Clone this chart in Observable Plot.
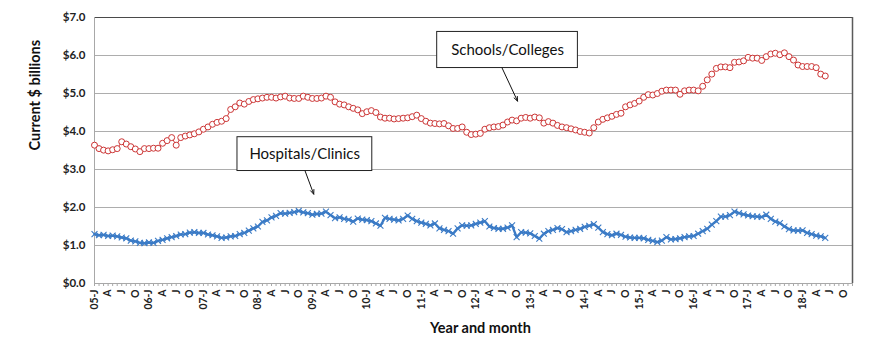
<!DOCTYPE html>
<html><head><meta charset="utf-8">
<script src="https://cdn.jsdelivr.net/npm/d3@7"></script>
<script src="https://cdn.jsdelivr.net/npm/@observablehq/plot@0.6"></script>
<style>body{margin:0;background:#fff}</style>
</head><body><div id="chart"></div>
<script>
const startYear = 2005;
const monthLetters = ["J","F","M","A","M","J","J","A","S","O","N","D"];
const yTicks = [0, 1, 2, 3, 4, 5, 6, 7];
const axisMonths = 168; // Jan 2005 .. Dec 2018
const xTitle = "Year and month";
const yTitle = "Current $ billions";

// Schools/Colleges, monthly, Jan 2005 .. Jun 2018 ($ billions)
const schools = [
  3.64, 3.55, 3.51, 3.49, 3.52, 3.55, 3.73, 3.67, 3.60, 3.54, 3.47, 3.55,
  3.55, 3.56, 3.56, 3.69, 3.76, 3.84, 3.64, 3.84, 3.88, 3.91, 3.94, 3.99,
  4.06, 4.12, 4.19, 4.24, 4.27, 4.34, 4.58, 4.65, 4.75, 4.72, 4.79, 4.84,
  4.86, 4.88, 4.90, 4.90, 4.88, 4.91, 4.93, 4.88, 4.87, 4.87, 4.93, 4.90,
  4.87, 4.87, 4.88, 4.93, 4.90, 4.78, 4.72, 4.70, 4.65, 4.61, 4.57, 4.47,
  4.52, 4.55, 4.50, 4.38, 4.35, 4.35, 4.33, 4.34, 4.35, 4.36, 4.39, 4.43,
  4.34, 4.27, 4.22, 4.21, 4.20, 4.21, 4.15, 4.08, 4.08, 4.12, 3.98, 3.92,
  3.93, 3.95, 4.06, 4.10, 4.12, 4.13, 4.17, 4.25, 4.30, 4.28, 4.35, 4.37,
  4.35, 4.38, 4.36, 4.22, 4.26, 4.22, 4.16, 4.12, 4.10, 4.07, 4.04, 4.00,
  3.98, 3.96, 4.10, 4.25, 4.32, 4.36, 4.40, 4.45, 4.48, 4.65, 4.70, 4.74,
  4.80, 4.90, 4.97, 4.96, 5.00, 5.06, 5.09, 5.09, 5.09, 4.98, 5.07, 5.09,
  5.09, 5.07, 5.19, 5.36, 5.51, 5.66, 5.70, 5.70, 5.68, 5.82, 5.83, 5.86,
  5.95, 5.93, 5.93, 5.87, 5.97, 6.04, 6.06, 6.02, 6.07, 5.97, 5.88, 5.75,
  5.71, 5.71, 5.71, 5.68, 5.51, 5.46
];

// Hospitals/Clinics, monthly, Jan 2005 .. Jun 2018 ($ billions)
const hospitals = [
  1.30, 1.27, 1.28, 1.25, 1.26, 1.24, 1.21, 1.19, 1.13, 1.11, 1.07, 1.06,
  1.08, 1.07, 1.12, 1.15, 1.19, 1.22, 1.25, 1.29, 1.30, 1.34, 1.35, 1.33,
  1.33, 1.29, 1.27, 1.24, 1.20, 1.21, 1.24, 1.25, 1.30, 1.33, 1.39, 1.45,
  1.50, 1.62, 1.66, 1.74, 1.78, 1.85, 1.84, 1.86, 1.88, 1.91, 1.87, 1.85,
  1.81, 1.83, 1.84, 1.89, 1.80, 1.72, 1.74, 1.70, 1.68, 1.63, 1.71, 1.68,
  1.67, 1.64, 1.58, 1.52, 1.73, 1.70, 1.68, 1.66, 1.70, 1.79, 1.70, 1.64,
  1.60, 1.57, 1.53, 1.58, 1.45, 1.41, 1.38, 1.31, 1.45, 1.53, 1.52, 1.53,
  1.57, 1.60, 1.64, 1.50, 1.46, 1.44, 1.44, 1.47, 1.53, 1.22, 1.35, 1.34,
  1.32, 1.25, 1.18, 1.31, 1.38, 1.41, 1.46, 1.43, 1.35, 1.38, 1.41, 1.44,
  1.49, 1.52, 1.56, 1.47, 1.35, 1.30, 1.27, 1.31, 1.28, 1.23, 1.21, 1.20,
  1.20, 1.19, 1.15, 1.12, 1.09, 1.13, 1.22, 1.16, 1.17, 1.19, 1.22, 1.24,
  1.25, 1.31, 1.38, 1.44, 1.55, 1.64, 1.76, 1.76, 1.80, 1.89, 1.85, 1.82,
  1.79, 1.77, 1.76, 1.75, 1.81, 1.70, 1.63, 1.59, 1.50, 1.43, 1.40, 1.39,
  1.40, 1.33, 1.30, 1.26, 1.24, 1.20
];

const seriesNames = ["Schools/Colleges", "Hospitals/Clinics"];

const data = schools.map((v, i) => ({i, schools: v, hospitals: hospitals[i]}));

const monthLabel = i => i % 12 === 0
  ? String((startYear + i / 12) % 100).padStart(2, "0") + "-J"
  : monthLetters[i % 12];

// callouts placed in data space (month index, $ billions)
const callouts = [
  {label: seriesNames[0], bx1: 75.5, bx2: 106.5, by1: 5.67, by2: 6.62, tx: 91.0, ty: 6.15, ax1: 89.8, ay1: 5.67, ax2: 93.2, ay2: 4.80},
  {label: seriesNames[1], bx1: 31.5, bx2: 61.2, by1: 2.96, by2: 3.85, tx: 46.3, ty: 3.41, ax1: 46.4, ay1: 2.96, ax2: 48.3, ay2: 2.35}
];

const red = "#cc3535";
const blue = "#3b7bc6";
const font = "Lato, 'DejaVu Sans', sans-serif";

const chart = Plot.plot({
  width: 870,
  height: 346,
  marginLeft: 94,
  marginRight: 18,
  marginTop: 17,
  marginBottom: 63,
  style: {fontFamily: font, background: "#fff", color: "#222"},
  x: {domain: [0, axisMonths - 1], axis: null},
  y: {domain: [0, 7], axis: null},
  marks: [
    Plot.ruleY(yTicks.slice(1, -1), {stroke: "#adadad", strokeWidth: 1}),
    Plot.ruleY([7], {stroke: "#4a4a4a", strokeWidth: 1.2}),
    Plot.ruleX([axisMonths - 1], {stroke: "#5a5a5a", strokeWidth: 1.5}),
    Plot.ruleX([0], {stroke: "#a8a8a8", strokeWidth: 1}),
    Plot.axisX({ticks: d3.range(0, axisMonths), tickSize: 3, tickFormat: () => "", stroke: "#a8a8a8"}),
    Plot.ruleY([0], {stroke: "#a8a8a8", strokeWidth: 1.2}),
    Plot.axisX({ticks: d3.range(0, axisMonths, 3), tickSize: 0, tickPadding: 6, tickRotate: -90,
      tickFormat: monthLabel, fontSize: 10.5, fontWeight: "bold", fill: "#222"}),
    Plot.axisY({ticks: yTicks, tickSize: 0, tickPadding: 9, tickFormat: d => "$" + d.toFixed(1),
      fontSize: 11.5, fontWeight: "bold", fill: "#222", label: null}),
    Plot.text([yTitle], {frameAnchor: "left", dx: -59, rotate: -90, fontSize: 14.5, fontWeight: "bold", fill: "#111"}),
    Plot.text([xTitle], {frameAnchor: "bottom", dx: 7, dy: 49, fontSize: 14.5, fontWeight: "bold", fill: "#111"}),
    Plot.line(data, {x: "i", y: "hospitals", stroke: blue, strokeWidth: 2.4}),
    Plot.dot(data, {x: "i", y: "hospitals", symbol: "times", r: 2.8, stroke: blue, strokeWidth: 1.1}),
    Plot.line(data, {x: "i", y: "schools", stroke: red, strokeWidth: 1}),
    Plot.dot(data, {x: "i", y: "schools", r: 3, stroke: red, fill: "#fff", strokeWidth: 1}),
    Plot.rect(callouts, {x1: "bx1", x2: "bx2", y1: "by1", y2: "by2", fill: "#fff", stroke: "#222", strokeWidth: 1}),
    Plot.text(callouts, {x: "tx", y: "ty", text: "label", fontSize: 15, fill: "#111"}),
    Plot.arrow(callouts, {x1: "ax1", y1: "ay1", x2: "ax2", y2: "ay2", stroke: "#111", strokeWidth: 1, headLength: 7, headAngle: 45})
  ]
});
document.getElementById("chart").appendChild(chart);
</script>
</body></html>
